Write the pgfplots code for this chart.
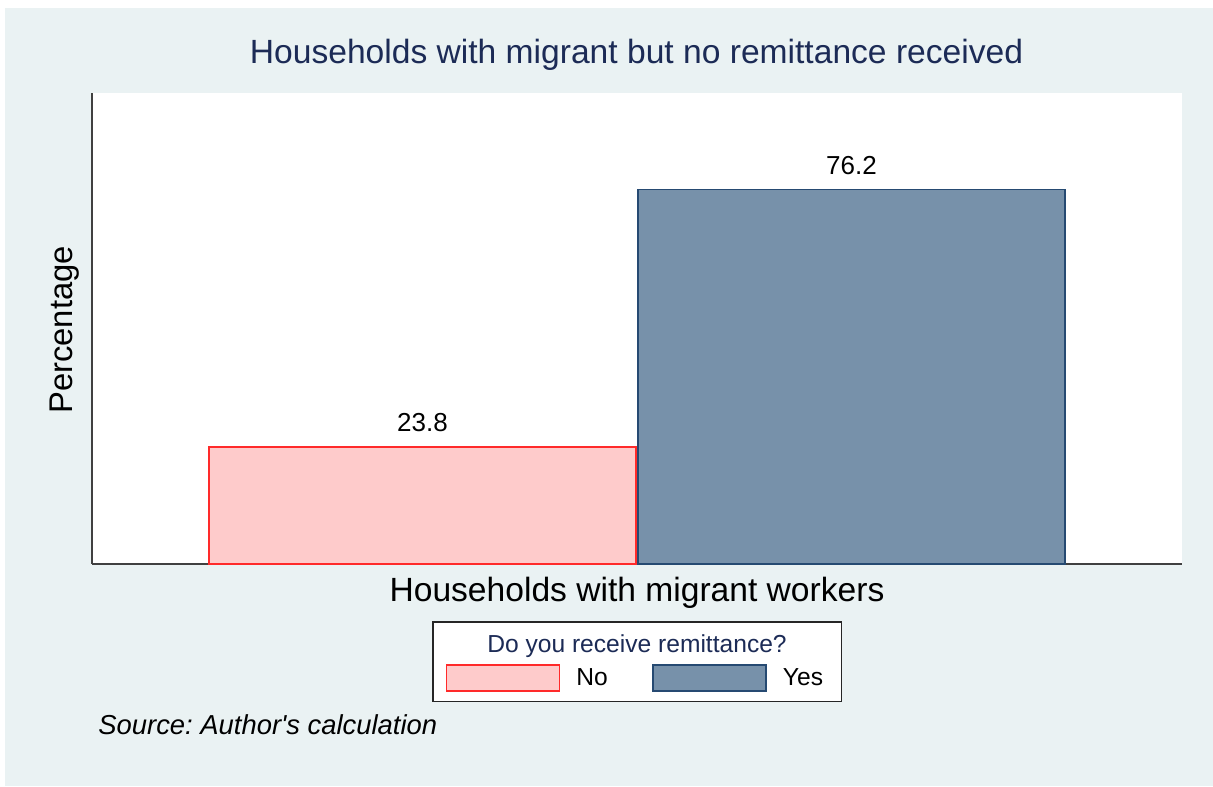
\documentclass[border=0pt]{standalone}
\usepackage{pgfplots}
\pgfplotsset{compat=1.18}
\usepackage{fontspec}
\setmainfont{Liberation Sans}[Ligatures=TeXOff]
\frenchspacing
\definecolor{bgc}{HTML}{EAF2F3}
\definecolor{pinkf}{HTML}{FECBCB}
\definecolor{pinkd}{HTML}{FF2A2A}
\definecolor{bluef}{HTML}{7791AA}
\definecolor{blued}{HTML}{264A72}
\definecolor{navy}{HTML}{1C2B56}
\begin{document}
\begin{tikzpicture}
\useasboundingbox (0,0) rectangle (606.5pt,393pt);
\fill[white] (0,0) rectangle (606.5pt,393pt);
\begin{scope}[x=0.5pt,y=-0.5pt,yshift=393pt]
\fill[bgc] (5,8) rectangle (1213,786);
\filldraw[fill=white, draw=black!85, line width=0.9pt] (433,622) rectangle (841.5,701.5);
\node[anchor=base, inner sep=0pt, text=navy, font=\fontsize{12.3}{14}\selectfont] at (637,652.7) {Do you receive remittance?};
\node[anchor=base, inner sep=0pt, text=navy, font=\fontsize{16.8}{19}\selectfont] at (636.5,64) {Households with migrant but no remittance received};
\node[anchor=base, inner sep=0pt, text=black, font=\fontsize{16.8}{19}\selectfont] at (637,602) {Households with migrant workers};
\node[anchor=base, rotate=90, inner sep=0pt, text=black, font=\fontsize{16.4}{19}\selectfont] at (72,330) {Percentage};
\node[anchor=base west, inner sep=0pt, text=black, font=\fontsize{13.7}{16}\selectfont\itshape] at (98,734) {Source: Author's calculation};
\end{scope}
\begin{axis}[
  at={(46pt,111pt)}, anchor=south west,
  scale only axis, width=545pt, height=235.5pt,
  xmin=0.2296, xmax=2.7704, ymin=0, ymax=95.8,
  axis lines=left,
  axis line style={-, draw=black!75, line width=0.9pt},
  every outer x axis line/.append style={-},
  every outer y axis line/.append style={-},
  xtick=\empty, ytick=\empty,
  axis background/.style={fill=white},
  clip=false,
  /pgf/number format/assume math mode=true,
  legend columns=2,
  legend image code/.code={\draw[#1] (0pt,-5.9pt) rectangle (56.5pt,6.9pt);},
  legend style={at={(axis description cs:0.3245,-0.2420)}, anchor=west,
    draw=none, fill=none, inner sep=0pt, outer sep=0pt,
    font=\fontsize{12.3}{14}\selectfont,
    nodes={inner sep=0pt, outer sep=0pt},
    /tikz/every odd column/.append style={column sep=8pt},
    /tikz/every even column/.append style={column sep=22.3pt}},
  nodes near coords,
  nodes near coords align={vertical},
  every node near coord/.append style={font=\fontsize{13}{15}\selectfont, text=black, inner sep=0pt, yshift=7pt},
]
\addplot[ybar, bar width=213.5pt, bar shift=0pt, fill=pinkf, draw=pinkd, line width=0.8pt] coordinates {(1,23.8)};
\addlegendentry{No}
\addplot[ybar, bar width=213.5pt, bar shift=0pt, fill=bluef, draw=blued, line width=0.8pt] coordinates {(2,76.2)};
\addlegendentry{Yes}
\end{axis}
\end{tikzpicture}
\end{document}
